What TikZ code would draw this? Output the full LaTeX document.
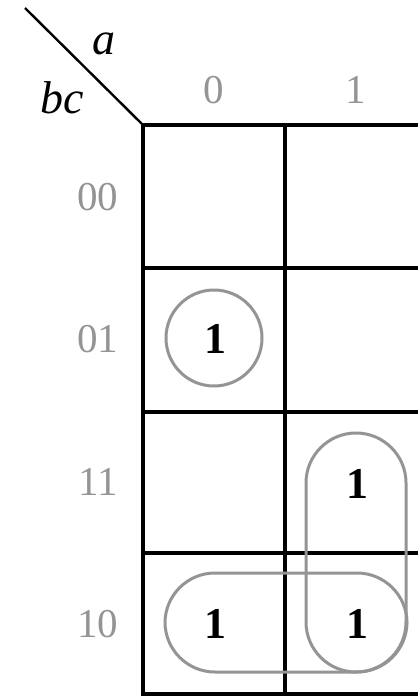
\documentclass[tikz,border=0pt]{standalone}
\usepackage{fontspec}
\setmainfont{Liberation Serif}
\begin{document}
\begin{tikzpicture}[x=1pt,y=-1pt,
  gridline/.style={line width=3.2pt,black},
  group/.style={line width=3pt,draw=black!42},
  hdr/.style={text=black!42,font=\fontsize{41}{41}\selectfont,inner sep=0pt},
  var/.style={font=\fontsize{46}{46}\selectfont\itshape,inner sep=0pt},
  one/.style={font=\fontsize{44}{44}\selectfont\bfseries,inner sep=0pt}]
\useasboundingbox (0,0) rectangle (418,697);
\clip (0,0) rectangle (418,697);
\fill[white] (0,0) rectangle (418,697);
% corner
\coordinate (dstart) at (25,8);
\coordinate (corner) at (143,125);
\draw[line width=2.4pt] (dstart) -- (corner);
\node[var] (va) at (104,44) {a};
\node[var] (vbc) at (62,98) {bc};
% column headers
\node[hdr] (c0) at (214,90) {0};
\node[hdr] (c1) at (356,90) {1};
% row headers
\node[hdr] (r00) at (98,197) {00};
\node[hdr] (r01) at (98,339) {01};
\node[hdr] (r11) at (98,482) {11};
\node[hdr] (r10) at (98,624) {10};
% grid
\draw[gridline] (143,125) -- (430,125);
\foreach \y in {268,412,553,694} \draw[gridline] (143,\y) -- (430,\y);
\draw[gridline] (143,123.4) -- (143,695.6);
\draw[gridline] (285,123.4) -- (285,695.6);
% groups
\draw[group] (214,338) circle (48);
\draw[group,rounded corners=50pt] (306,433) rectangle (406,672);
\draw[group,rounded corners=50pt] (165,573) rectangle (407,672);
% ones
\node[one] (m1) at (215,339) {1};
\node[one] (m3) at (357,484) {1};
\node[one] (m4) at (215,624) {1};
\node[one] (m6) at (357,624) {1};
\end{tikzpicture}
\end{document}
